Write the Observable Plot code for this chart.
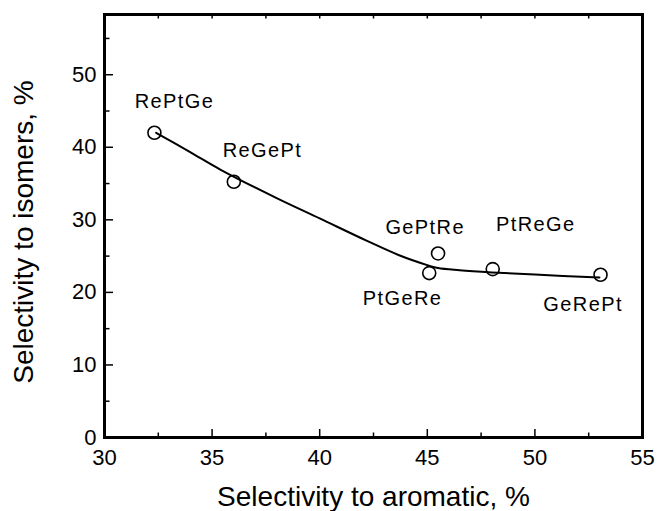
<!DOCTYPE html>
<html>
<head>
<meta charset="utf-8">
<script src="https://cdn.jsdelivr.net/npm/d3@7"></script>
<script src="https://cdn.jsdelivr.net/npm/@observablehq/plot@0.6"></script>
<style>
  html, body { margin: 0; padding: 0; background: white; }
  #chart svg { display: block; }
</style>
</head>
<body>
<div id="chart"></div>
<script>
// Catalyst samples (impregnation order)
const names = ["RePtGe", "ReGePt", "GePtRe", "PtGeRe", "PtReGe", "GeRePt"];
const aromatic = [32.32, 36.01, 45.50, 45.09, 48.04, 53.05];
const isomers = [42.0, 35.25, 25.37, 22.66, 23.21, 22.43];
// Label positions
const labelX = [33.25, 37.34, 44.9, 43.85, 50.04, 52.24];
const labelY = [46.35, 39.6, 28.95, 19.19, 29.36, 18.27];
// Fitted trend curve
const fitX = [32.4, 34.0, 35.4, 38.0, 40.0, 42.2, 43.75, 45.0, 45.5, 46.5, 48.0, 50.0, 53.0];
const fitY = [42.0, 39.3, 36.9, 33.0, 30.2, 27.1, 25.05, 23.76, 23.35, 23.05, 22.75, 22.45, 22.05];
// Ticks
const xTickLabels = [30, 35, 40, 45, 50, 55];
const xMajorInner = [35, 40, 45, 50];
const xMinor = [32.5, 37.5, 42.5, 47.5, 52.5];
const xTop = [32.5, 35, 37.5, 40, 42.5, 45, 47.5, 50, 52.5];
const yTickLabels = [0, 10, 20, 30, 40, 50];
const yMajorInner = [10, 20, 30, 40, 50];
const yMinor = [5, 15, 25, 35, 45, 55];
const xTitle = "Selectivity to aromatic, %";
const yTitle = "Selectivity to isomers, %";

const points = names.map((n, i) => ({name: n, x: aromatic[i], y: isomers[i]}));
const labels = names.map((n, i) => ({name: n, x: labelX[i], y: labelY[i]}));
const fit = fitX.map((x, i) => ({x, y: fitY[i]}));
const blank = () => "";

const chart = Plot.plot({
  width: 658,
  height: 511,
  marginLeft: 104,
  marginRight: 16,
  marginTop: 14,
  marginBottom: 74,
  x: {domain: [30, 55]},
  y: {domain: [0, 58.3]},
  style: {fontFamily: "'Liberation Sans', Arial, sans-serif", background: "white", color: "black"},
  marks: [
    Plot.axisX({ticks: xTickLabels, tickSize: 0, tickPadding: 12, fontSize: 22, label: null}),
    Plot.axisX({ticks: xMajorInner, tickSize: -8, tickFormat: blank, label: null, strokeWidth: 1.5}),
    Plot.axisX({ticks: xMinor, tickSize: -4.5, tickFormat: blank, label: null, strokeWidth: 1.5}),
    Plot.axisX({anchor: "top", ticks: xTop, tickSize: -3.5, tickFormat: blank, label: null, strokeWidth: 1.5}),
    Plot.axisY({ticks: yTickLabels, tickSize: 0, tickPadding: 8, fontSize: 22, label: null}),
    Plot.axisY({ticks: yMajorInner, tickSize: -9, tickFormat: blank, label: null, strokeWidth: 1.5}),
    Plot.axisY({ticks: yMinor, tickSize: -5.5, tickFormat: blank, label: null, strokeWidth: 1.5}),
    Plot.frame({stroke: "black", strokeWidth: 3}),
    Plot.line(fit, {x: "x", y: "y", stroke: "black", strokeWidth: 2, curve: "catmull-rom"}),
    Plot.dot(points, {x: "x", y: "y", r: 6.5, stroke: "black", strokeWidth: 1.6, fill: "none"}),
    Plot.text(labels, {x: "x", y: "y", text: "name", fontSize: 20, lineAnchor: "middle", textAnchor: "middle", fill: "black"}),
    Plot.text([xTitle], {frameAnchor: "bottom", dy: 49, lineAnchor: "top", textAnchor: "middle", fontSize: 28, fill: "black"}),
    Plot.text([yTitle], {frameAnchor: "left", rotate: -90, dx: -91, dy: 6, lineAnchor: "top", textAnchor: "middle", fontSize: 28, fill: "black"})
  ]
});

document.getElementById("chart").appendChild(chart);
const nameSet = new Set(names);
d3.select(chart).selectAll("text").each(function () {
  if (nameSet.has(this.textContent)) this.style.letterSpacing = "1.4px";
});
</script>
</body>
</html>
